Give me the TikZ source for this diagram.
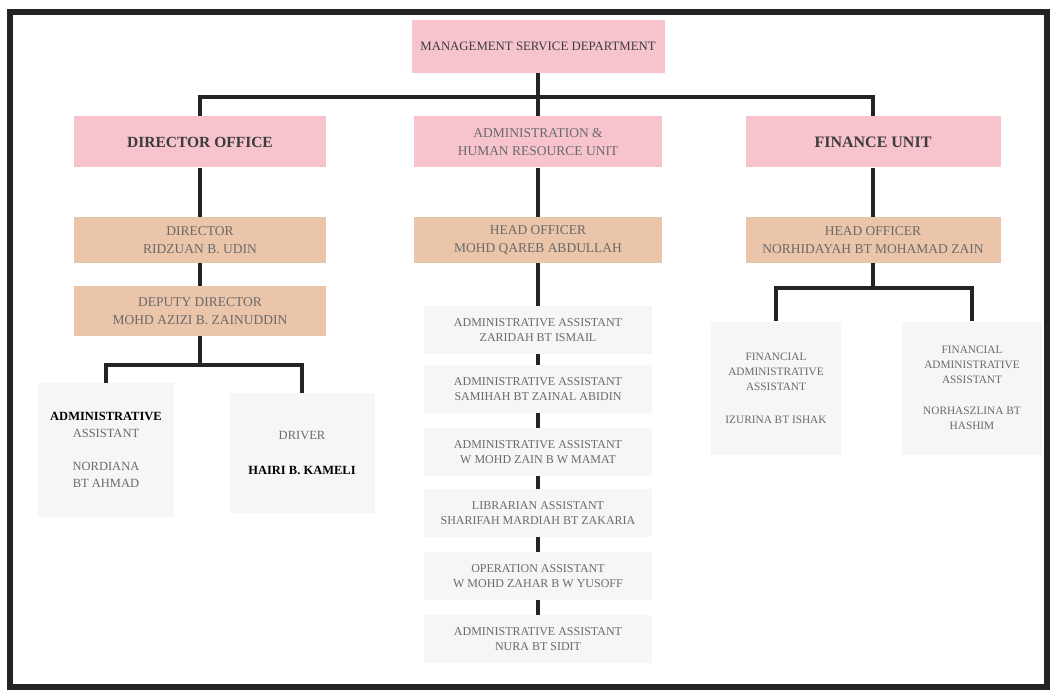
\documentclass[tikz,border=0pt]{standalone}
\usepackage{fontspec}
\setmainfont{Liberation Serif}

\definecolor{pinkbox}{HTML}{F7C4CD}
\definecolor{tanbox}{HTML}{EBC5A9}
\definecolor{palebox}{HTML}{F6F6F7}
\definecolor{inkline}{HTML}{242424}
\definecolor{darktxt}{HTML}{3C3C3C}
\definecolor{softtxt}{HTML}{6A6A6A}

\tikzset{
  unitbox/.style={fill=pinkbox, draw=none, align=center, text=darktxt, inner sep=0pt},
  headbox/.style={fill=tanbox, draw=none, align=center, text=softtxt, inner sep=0pt,
    minimum height=46pt, font=\fontsize{13.5}{17.5}\selectfont},
  staffbox/.style={fill=palebox, draw=none, align=center, text=softtxt, inner sep=0pt,
    minimum width=228pt, minimum height=48pt, font=\fontsize{12}{15.5}\selectfont},
  sidebox/.style={fill=palebox, draw=none, align=center, text=softtxt, inner sep=0pt},
  link/.style={draw=inkline, line width=3.4pt},
}

\begin{document}
\begin{tikzpicture}[x=1pt,y=-1pt]
\useasboundingbox (0,0) rectangle (1056,692);
\fill[white] (0,0) rectangle (1056,692);
% outer frame
\draw[line width=5.5pt, inkline] (10,12) rectangle (1047,687);

% department and units
\node[unitbox, minimum width=253pt, minimum height=53pt,
  font=\fontsize{12.8}{15}\selectfont] (msd) at (538,46.5) {MANAGEMENT SERVICE DEPARTMENT};
\node[unitbox, minimum width=252pt, minimum height=51pt,
  font=\fontsize{15.5}{18}\selectfont\bfseries] (dirOff) at (200,142) {DIRECTOR OFFICE};
\node[unitbox, minimum width=248pt, minimum height=51pt, text=softtxt,
  font=\fontsize{13.5}{18}\selectfont] (admHR) at (538,142) {ADMINISTRATION \&\\HUMAN RESOURCE UNIT};
\node[unitbox, minimum width=255pt, minimum height=51pt,
  font=\fontsize{16}{18}\selectfont\bfseries] (finU) at (873,142) {FINANCE UNIT};

\coordinate (bar) at (538,97);

% heads
\node[headbox, minimum width=252pt] (dir) at (200,240) {DIRECTOR\\RIDZUAN B. UDIN};
\node[headbox, minimum width=252pt, minimum height=49pt] (dep) at (200,311) {DEPUTY DIRECTOR\\MOHD AZIZI B. ZAINUDDIN};
\node[headbox, minimum width=248pt] (hAdm) at (538,240) {HEAD OFFICER\\MOHD QAREB ABDULLAH};
\node[headbox, minimum width=255pt] (hFin) at (873,240) {HEAD OFFICER\\NORHIDAYAH BT MOHAMAD ZAIN};

% director office staff
\node[sidebox, minimum width=136pt, minimum height=134pt,
  font=\fontsize{12.5}{17}\selectfont] (lAdm) at (106,450)
  {{\color{black}\bfseries ADMINISTRATIVE}\\ASSISTANT\\[16pt]NORDIANA\\BT AHMAD};
\node[sidebox, minimum width=145pt, minimum height=120pt,
  font=\fontsize{12.5}{17}\selectfont] (drv) at (302,453)
  {DRIVER\\[18pt]{\color{black}\bfseries HAIRI B. KAMELI}};

% administration staff column
\node[staffbox] (c1) at (538,330) {ADMINISTRATIVE ASSISTANT\\ZARIDAH BT ISMAIL};
\node[staffbox] (c2) at (538,389) {ADMINISTRATIVE ASSISTANT\\SAMIHAH BT ZAINAL ABIDIN};
\node[staffbox] (c3) at (538,452) {ADMINISTRATIVE ASSISTANT\\W MOHD ZAIN B W MAMAT};
\node[staffbox] (c4) at (538,513) {LIBRARIAN ASSISTANT\\SHARIFAH MARDIAH BT ZAKARIA};
\node[staffbox] (c5) at (538,576) {OPERATION ASSISTANT\\W MOHD ZAHAR B W YUSOFF};
\node[staffbox] (c6) at (538,639) {ADMINISTRATIVE ASSISTANT\\NURA BT SIDIT};

% finance staff
\node[sidebox, minimum width=130pt, minimum height=133pt,
  font=\fontsize{11.3}{15}\selectfont] (f1) at (776,388)
  {FINANCIAL\\ADMINISTRATIVE\\ASSISTANT\\[18pt]IZURINA BT ISHAK};
\node[sidebox, minimum width=140pt, minimum height=133pt,
  font=\fontsize{11.3}{15}\selectfont] (f2) at (972,388)
  {FINANCIAL\\ADMINISTRATIVE\\ASSISTANT\\[16pt]NORHASZLINA BT\\HASHIM};

% connectors: department to units
\draw[link] (msd.south) -- (bar);
\draw[link] (dirOff.north) |- (bar) -| (finU.north);
\draw[link] (admHR.north) -- (bar);

% director office chain
\draw[link] (dirOff.south) -- (dir.north);
\draw[link] (dir.south) -- (dep.north);
\coordinate (lbr) at (200,365);
\draw[link] (dep.south) -- (lbr);
\draw[link] (lAdm.north) |- (lbr) -| (drv.north);

% administration chain
\draw[link] (admHR.south) -- (hAdm.north);
\draw[link] (hAdm.south) -- (c1.north);
\draw[link] (c1.south) -- (c2.north);
\draw[link] (c2.south) -- (c3.north);
\draw[link] (c3.south) -- (c4.north);
\draw[link] (c4.south) -- (c5.north);
\draw[link] (c5.south) -- (c6.north);

% finance chain
\draw[link] (finU.south) -- (hFin.north);
\coordinate (fbr) at (873,288);
\draw[link] (hFin.south) -- (fbr);
\draw[link] (f1.north) |- (fbr) -| (f2.north);
\end{tikzpicture}
\end{document}
